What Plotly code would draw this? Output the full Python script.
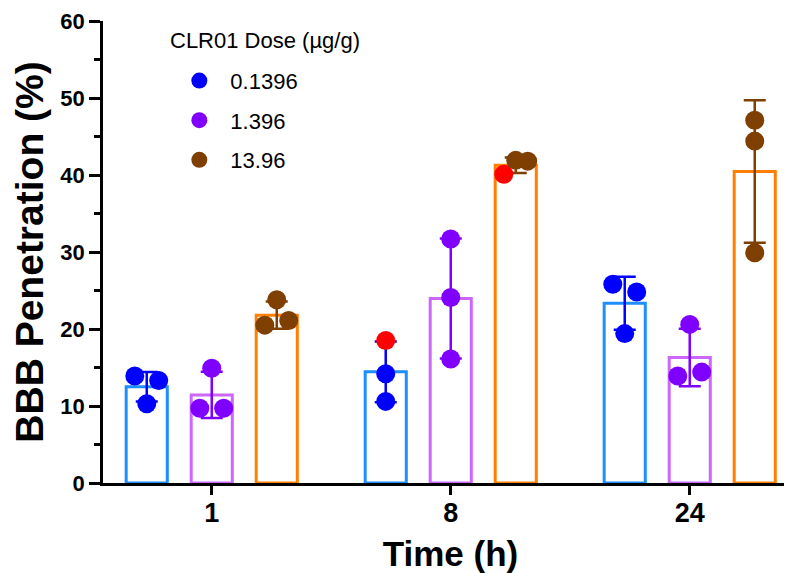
import numpy as np
import plotly.graph_objects as go

# ---------------- data ----------------
time_labels = ["1", "8", "24"]
dose_labels = ["0.1396", "1.396", "13.96"]
legend_title = "CLR01 Dose (µg/g)"
x_title = "Time (h)"
y_title = "BBB Penetration (%)"
y_ticks = [0, 10, 20, 30, 40, 50, 60]

# replicate BBB penetration values (%), one list per time point
dose_low = [[13.9, 13.3, 10.3], [18.5, 14.2, 10.6], [25.8, 24.8, 19.4]]
dose_mid = [[14.9, 9.7, 9.7], [31.7, 24.1, 16.1], [20.6, 13.9, 14.4]]
dose_high = [[23.8, 20.5, 21.1], [40.1, 41.9, 41.8], [47.1, 44.4, 29.9]]

# replicates highlighted in red in the original figure (1 = highlighted)
flag_low = [[0, 0, 0], [1, 0, 0], [0, 0, 0]]
flag_mid = [[0, 0, 0], [0, 0, 0], [0, 0, 0]]
flag_high = [[0, 0, 0], [1, 0, 0], [0, 0, 0]]

# ---------------- style ----------------
FONT = "Liberation Sans, Arial, sans-serif"
bar_colors = ["#1E8FFF", "#CC66FF", "#FF8000"]
point_colors = ["#0000FF", "#8000FF", "#7F3F00"]
flag_color = "#FF0000"
dose_offsets = [-0.272, 0.0, 0.272]
bar_width = 0.172
# horizontal scatter of replicate points (category units)
jitter_low = [[-0.05, 0.05, 0.0], [0.0, 0.0, 0.0], [-0.05, 0.05, 0.0]]
jitter_mid = [[0.0, -0.05, 0.05], [0.0, 0.0, 0.0], [0.0, -0.05, 0.05]]
jitter_high = [[0.0, -0.05, 0.05], [-0.05, 0.0, 0.05], [0.0, 0.0, 0.0]]

series = [
    (dose_low, flag_low, jitter_low),
    (dose_mid, flag_mid, jitter_mid),
    (dose_high, flag_high, jitter_high),
]

fig = go.Figure()
groups = np.arange(len(time_labels))

# bars (means)
for k, (vals, flags, jit) in enumerate(series):
    arr = np.array(vals, dtype=float)
    means = arr.mean(axis=1)
    fig.add_trace(go.Bar(
        x=groups + dose_offsets[k], y=means, width=bar_width,
        marker=dict(color="rgba(255,255,255,0)",
                    line=dict(color=bar_colors[k], width=3)),
        showlegend=False, hoverinfo="skip"))

# error bars (mean +/- SD)
for k, (vals, flags, jit) in enumerate(series):
    arr = np.array(vals, dtype=float)
    means = arr.mean(axis=1)
    sds = arr.std(axis=1, ddof=1)
    fig.add_trace(go.Scatter(
        x=groups + dose_offsets[k], y=means, mode="markers",
        marker=dict(size=2, opacity=0, color=point_colors[k]),
        error_y=dict(type="data", array=sds, visible=True,
                     color=point_colors[k], thickness=2.5, width=11),
        showlegend=False, hoverinfo="skip"))

# replicate points
for k, (vals, flags, jit) in enumerate(series):
    xs, ys, cs = [], [], []
    for g in range(len(time_labels)):
        for r in range(len(vals[g])):
            xs.append(g + dose_offsets[k] + jit[g][r])
            ys.append(vals[g][r])
            cs.append(flag_color if flags[g][r] else point_colors[k])
    fig.add_trace(go.Scatter(
        x=xs, y=ys, mode="markers", name=dose_labels[k],
        legendgroup=dose_labels[k],
        marker=dict(size=19, color=cs, line=dict(width=0))))

# placeholder trace so the tick-mark axis (xaxis2) is rendered
fig.add_trace(go.Scatter(x=[0], y=[None], xaxis="x2", yaxis="y",
                         mode="markers", showlegend=False, hoverinfo="skip"))

axis_common = dict(linecolor="black", linewidth=2.5,
                   tickcolor="black", tickwidth=2.5,
                   showgrid=False, zeroline=False)
x_range = [-0.455, 2.453]

fig.update_layout(
    width=792, height=573,
    margin=dict(l=95, r=2, t=13, b=98, autoexpand=False),
    paper_bgcolor="white", plot_bgcolor="white",
    barmode="overlay",
    font=dict(family=FONT, color="black"),
    xaxis=dict(
        range=x_range, tickvals=list(groups), ticktext=time_labels,
        showline=True, ticks="", ticklabelstandoff=4,
        tickfont=dict(family=FONT, size=27, weight="bold", color="black"),
        title=dict(text=x_title, standoff=15,
                   font=dict(family=FONT, size=35, weight="bold", color="black")),
        **axis_common),
    # tick marks for the time categories (labels are drawn by xaxis)
    xaxis2=dict(
        range=x_range, overlaying="x", matches="x", anchor="y", side="bottom",
        tickvals=list(groups), showticklabels=False, showline=False,
        ticks="outside", ticklen=11, **axis_common),
    yaxis=dict(
        range=[0, 60], tickvals=y_ticks, showline=True,
        ticks="outside", ticklen=11,
        tickfont=dict(family=FONT, size=22, weight="bold", color="black"),
        minor=dict(dtick=5, ticks="outside", ticklen=6, tickwidth=2.5,
                   tickcolor="black", showgrid=False),
        title=dict(text=y_title, standoff=12,
                   font=dict(family=FONT, size=39, weight="bold", color="black")),
        **axis_common),
    legend=dict(
        font=dict(family=FONT, size=22, color="black"),
        x=0.094, y=0.916, xanchor="left", yanchor="top",
        itemwidth=52, tracegroupgap=8, bgcolor="rgba(0,0,0,0)"),
    annotations=[dict(
        text=legend_title, xref="paper", yref="paper",
        x=0.0935, y=0.957, xanchor="left", yanchor="middle", showarrow=False,
        font=dict(family=FONT, size=22, color="black"))],
)

fig.write_html("out.html")
